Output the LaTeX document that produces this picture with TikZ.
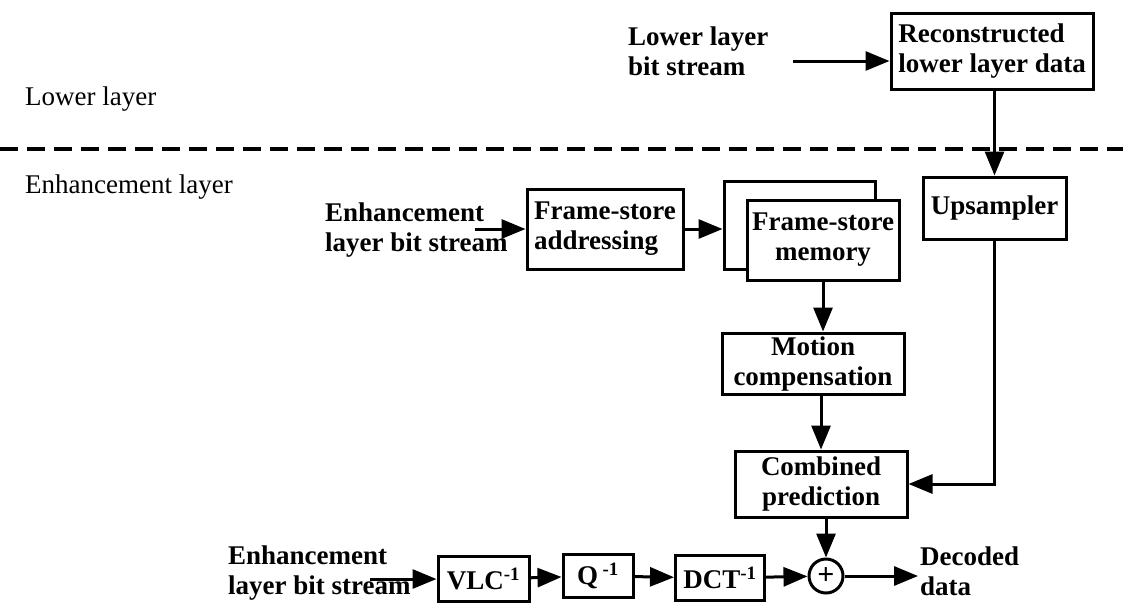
\documentclass[tikz,border=0pt]{standalone}
\usepackage{fontspec}
\setmainfont{Liberation Serif}
\usetikzlibrary{arrows.meta}
\newcommand\dgfont{\fontsize{27}{30}\selectfont}

\begin{document}
\begin{tikzpicture}[x=1pt, y=-1pt, font=\dgfont,
    blk/.style={draw, line width=3pt, inner sep=0pt, fill=white,
      font=\dgfont\bfseries, align=center},
    lbl/.style={inner sep=0pt, align=left, anchor=north west,
      font=\dgfont\bfseries},
    arr/.style={line width=3pt, -{Triangle[length=24pt,width=19pt]}}]
  \useasboundingbox (0,0) rectangle (1123,606);
  % layers
  \node[anchor=base west, inner sep=0pt] (lowtxt) at (25,105) {Lower layer};
  \node[anchor=base west, inner sep=0pt] (enhtxt) at (25,193) {Enhancement layer};
  \draw[line width=4pt, dash pattern=on 18pt off 9pt] (0,149) -- (1123,149);
  % lower layer
  \node[lbl] (lbits) at (628,27) {Lower layer\\bit stream};
  \node[blk, align=left, minimum width=202pt, minimum height=76pt] (recon) at (992,51)
    {Reconstructed\\lower layer data};
  \node[blk, minimum width=143pt, minimum height=62pt] (ups) at (994.5,208) {Upsampler};
  % enhancement layer, prediction path
  \node[lbl] (ebits) at (325,203) {Enhancement\\layer bit stream};
  \node[blk, align=left, minimum width=156pt, minimum height=80pt] (addr) at (605,229)
    {Frame-store\\addressing};
  \node[blk, minimum width=151pt, minimum height=88pt] (memback) at (799.5,225) {};
  \node[blk, minimum width=152pt, minimum height=80pt] (mem) at (823,240)
    {Frame-store\\memory};
  \node[blk, minimum width=182pt, minimum height=61pt] (mc) at (813,363.5)
    {Motion\\compensation};
  \node[blk, minimum width=172pt, minimum height=66pt] (comb) at (821,484)
    {Combined\\prediction};
  % enhancement layer, residual path
  \node[lbl] (rbits) at (228,546) {Enhancement\\layer bit stream};
  \node[blk, minimum width=91pt, minimum height=45pt] (vlc) at (483.5,579)
    {VLC\textsuperscript{-1}};
  \node[blk, minimum width=70pt, minimum height=43pt] (q) at (598,576)
    {Q\,\textsuperscript{-1}};
  \node[blk, minimum width=89pt, minimum height=45pt] (dct) at (720,578)
    {DCT\textsuperscript{-1}};
  \node[blk, circle, minimum size=34pt, font=\fontsize{30}{30}\selectfont\bfseries]
    (plus) at (826,576) {+};
  \node[lbl] (dec) at (920,547) {Decoded\\data};

  \coordinate (lb) at (793,61);
  \coordinate (eb) at (475,229);
  \coordinate (rb) at (370,579);
  \coordinate (out) at (918,576);
  \draw[arr] (lb) -- (lb -| recon.west);
  \draw[arr] (ups.north |- recon.south) -- (ups.north);
  \draw[arr] (ups.south) |- (comb.east);
  \draw[arr] (eb) -- (eb -| addr.west);
  \draw[arr] (addr.east) -- (addr.east -| memback.west);
  \draw[arr] (mem.south) -- (mem.south |- mc.north);
  \draw[arr] (comb.north |- mc.south) -- (comb.north);
  \draw[arr] (plus.north |- comb.south) -- (plus.north);
  \draw[arr] (rb) -- (rb -| vlc.west);
  \draw[arr] (vlc) -- (q);
  \draw[arr] (q) -- (dct);
  \draw[arr] (dct) -- (plus);
  \draw[arr] (plus) -- (out);
\end{tikzpicture}
\end{document}
